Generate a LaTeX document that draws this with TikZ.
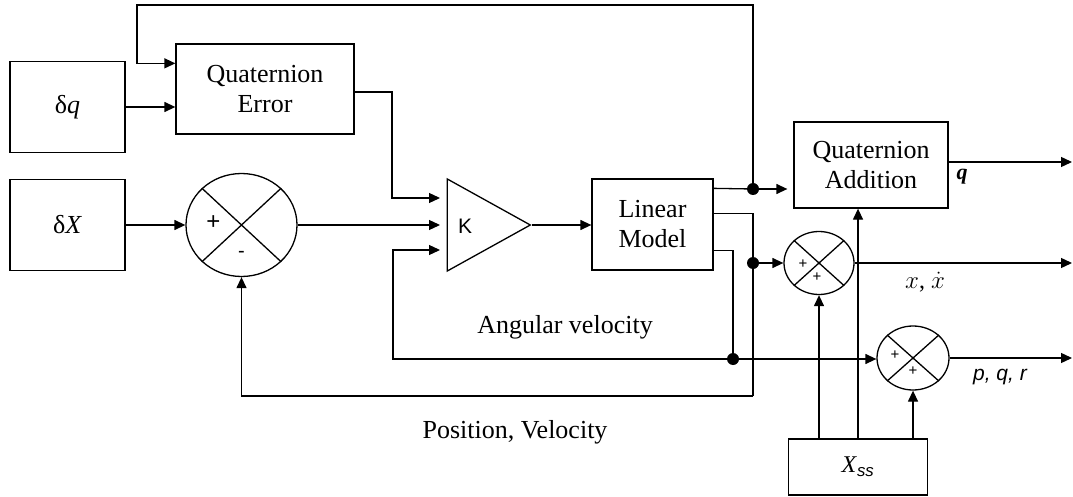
\documentclass[tikz,border=0pt]{standalone}
\usepackage{fontspec}
\setmainfont{Liberation Serif}
\setsansfont{Liberation Sans}
\usetikzlibrary{positioning, calc, shapes.geometric, arrows.meta}

\begin{document}
\begin{tikzpicture}[x=1pt, y=-1pt,
      every node/.style={font=\fontsize{26}{30}\selectfont, align=center, inner sep=0pt},
      block/.style={draw, line width=1.3pt, minimum width=115pt, minimum height=91pt},
      sum/.style={draw, line width=1.3pt, ellipse},
      gainbox/.style={draw, line width=1.3pt, isosceles triangle,
                      isosceles triangle stretches, minimum width=92pt,
                      minimum height=83pt, anchor=apex},
      sign/.style={font=\sffamily\fontsize{15}{15}\selectfont},
      wire/.style={line width=1.3pt},
      arrow/.style={wire, -{Triangle[length=11pt, width=10pt]}},
      dot/.style={circle, fill, minimum size=12pt},
  ]
    \useasboundingbox (0,0) rectangle (1073,497);

    %% --- input blocks ---
    \node[block] (dq) at (67.5,107) {δ\textit{q}};
    \node[block] (dx) at (67.5,225) {δ\textit{X}};
    \node[block, minimum width=178pt, minimum height=90pt] (qerr) at (265,89) {Quaternion\\Error};

    %% --- summing junction, gain and plant ---
    \node[sum, minimum width=111pt, minimum height=103pt] (sum1) at (241.5,225) {};
    \node[gainbox] (gain) at (532,225) {};
    \node[font=\sffamily\fontsize{21}{21}\selectfont] (klab) at (465,226) {K};
    \node[block, minimum width=121pt] (lin) at (652.5,224.5) {Linear\\Model};

    %% --- output side ---
    \node[block, minimum width=154pt, minimum height=86pt] (qadd) at (871,165) {Quaternion\\Addition};
    \node[sum, minimum width=70pt, minimum height=63pt] (sum2) at (819,263) {};
    \node[sum, minimum width=72pt, minimum height=64pt] (sum3) at (913,358) {};
    \node[block, minimum width=139pt, minimum height=56pt, font=\fontsize{24}{24}\selectfont]
      (xss) at (858,467) {\textit{X}\textsubscript{\sffamily\itshape ss}};

    \foreach \s in {sum1,sum2,sum3}
      \draw[wire] (\s.north west) -- (\s.south east) (\s.north east) -- (\s.south west);

    %% --- signs ---
    \node[sign, font=\sffamily\fontsize{24}{24}\selectfont] (s1p) at ($(sum1)+(-28,-2)$) {+};
    \node[sign, font=\sffamily\fontsize{20}{20}\selectfont] (s1m) at ($(sum1)+(0,29)$) {-};
    \node[sign] (s2a) at ($(sum2)+(-16,1)$) {+};
    \node[sign] (s2b) at ($(sum2)+(-2,14)$) {+};
    \node[sign] (s3a) at ($(sum3)+(-18,-3)$) {+};
    \node[sign] (s3b) at ($(sum3)+(0,13)$) {+};

    %% --- junctions and corners ---
    \coordinate (kin1) at (440,198);
    \coordinate (kin2) at (440,225);
    \coordinate (kin3) at (440,250);
    \coordinate (out1) at ($(lin.north east)+(0,10)$);
    \coordinate (out2) at ($(lin.north east)+(0,35)$);
    \coordinate (out3) at ($(lin.north east)+(0,72)$);
    \coordinate (d1) at (753,189);
    \coordinate (d2) at (753,263);
    \coordinate (d3) at (733,359);
    \coordinate (loop) at (137,5);
    \coordinate (fb1) at (753,396);
    \coordinate (fb3) at (393,250);
    \coordinate (qout) at (1072,162);

    \draw[arrow] (dq.east) -- (dq.east -| qerr.west);
    \draw[arrow] (d1) |- (loop) |- ($(qerr.north west)+(0,20)$);
    \draw[arrow] ($(qerr.east)+(0,3)$) -| ($(kin1)+(-48,0)$) -- (kin1);
    \draw[arrow] (dx) -- (sum1);
    \draw[arrow] (sum1) -- (kin2);
    \draw[arrow] (gain.apex) -- (gain.apex -| lin.west);

    \draw[wire] (out1) -- (d1);
    \draw[arrow, shorten >=6pt] (d1) -- (d1 -| qadd.west);
    \draw[wire] (out2) -| (fb1);
    \draw[arrow] (fb1) -| (sum1.south);
    \draw[arrow] (d2) -- (sum2.west);
    \draw[wire] (out3) -| (d3);
    \draw[arrow] (d3) -- (d3 -| sum3.west);
    \draw[arrow] (d3) -| (fb3) -- (kin3);

    \node[dot] (j1) at (d1) {};
    \node[dot] (j2) at (d2) {};
    \node[dot] (j3) at (d3) {};

    %% --- outputs ---
    \draw[arrow] ($(qadd.east)+(0,-3)$) -- (qout);
    \draw[arrow] (sum2.east) -- (sum2.east -| qout);
    \draw[arrow] (sum3.east) -- (sum3.east -| qout);
    \draw[arrow] (xss.north -| sum2.south) -- (sum2.south);
    \draw[arrow] (xss.north) -- (xss.north |- qadd.south);
    \draw[arrow] (xss.north -| sum3.south) -- (sum3.south);

    %% --- signal labels ---
    \node[font=\fontsize{22}{22}\selectfont] (qlbl) at (962,177) {\textbf{\textit{q}}};
    \node[font=\fontsize{24}{24}\selectfont] (xlbl) at (925,282) {$x$, $\dot{x}$};
    \node[font=\sffamily\itshape\fontsize{21}{21}\selectfont] (pqr) at (1000,377) {p, q, r};
    \node (angvel) at (565,327) {Angular velocity};
    \node (posvel) at (515,432) {Position, Velocity};
\end{tikzpicture}
\end{document}
